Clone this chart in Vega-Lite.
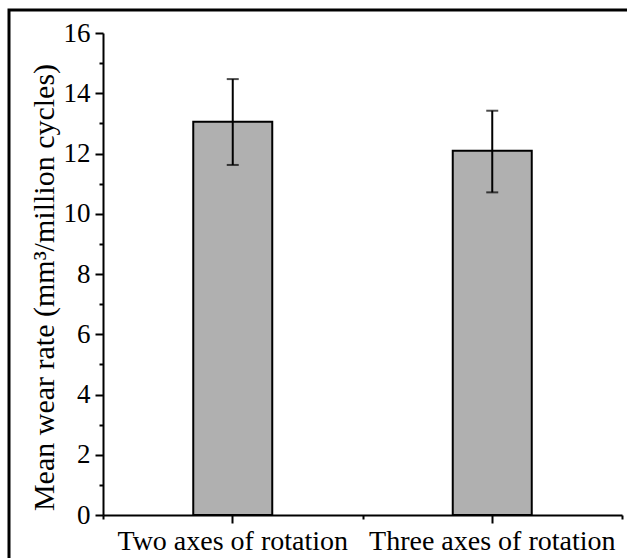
{
  "$schema": "https://vega.github.io/schema/vega-lite/v6.json",
  "autosize": "none",
  "padding": {"left": 9, "top": 10, "right": 0, "bottom": 0},
  "width": 640,
  "height": 571,
  "background": "white",
  "config": {
    "view": {"stroke": "black", "strokeWidth": 3},
    "font": "Liberation Serif"
  },
  "data": {
    "values": [
      {"condition": "Two axes of rotation", "mean": 13.05, "lo": 11.62, "hi": 14.47},
      {"condition": "Three axes of rotation", "mean": 12.09, "lo": 10.71, "hi": 13.42}
    ]
  },
  "layer": [
    {
      "mark": {"type": "bar", "fill": "#b0b0b0", "stroke": "black", "strokeWidth": 2, "width": 79},
      "encoding": {
        "x": {
          "field": "condition", "type": "nominal", "sort": null,
          "scale": {"range": [94, 613], "paddingInner": 0, "paddingOuter": 0},
          "axis": {
            "orient": "bottom", "offset": -66, "title": null,
            "domain": true, "domainColor": "black", "domainWidth": 2,
            "ticks": true, "tickSize": 8, "tickWidth": 2, "tickColor": "black",
            "labelAngle": 0, "labelFont": "Liberation Serif", "labelFontSize": 28,
            "labelColor": "black", "labelPadding": 4, "labelLimit": 0, "grid": false
          }
        },
        "y": {
          "field": "mean", "type": "quantitative",
          "scale": {"domain": [0, 16], "range": [505, 23], "nice": false, "zero": true},
          "axis": {
            "orient": "left", "offset": -94,
            "title": "Mean wear rate (mm³/million cycles)",
            "titleFont": "Liberation Serif", "titleFontSize": 30, "titleFontWeight": "normal",
            "titleColor": "black", "titlePadding": 4, "titleY": 277,
            "values": [0, 1, 2, 3, 4, 5, 6, 7, 8, 9, 10, 11, 12, 13, 14, 15, 16],
            "labelExpr": "datum.value % 2 === 0 ? datum.label : ''",
            "domain": true, "domainColor": "black", "domainWidth": 2,
            "ticks": true, "tickWidth": 2, "tickColor": "black",
            "tickSize": {"condition": {"test": "datum.value % 2 === 0", "value": 8}, "value": 4},
            "labelFont": "Liberation Serif", "labelFontSize": 27, "labelColor": "black",
            "labelPadding": 5, "grid": false
          }
        }
      }
    },
    {
      "mark": {"type": "rule", "color": "black", "strokeWidth": 2},
      "encoding": {
        "x": {
          "field": "condition", "type": "nominal", "sort": null,
          "axis": {
            "orient": "bottom", "offset": -66, "title": null, "domain": false,
            "labels": false, "ticks": true, "tickBand": "extent", "tickSize": 4,
            "tickWidth": 2, "tickColor": "black", "grid": false
          }
        },
        "y": {"field": "lo", "type": "quantitative", "axis": null},
        "y2": {"field": "hi"}
      }
    },
    {
      "mark": {"type": "tick", "color": "black", "orient": "horizontal", "size": 12, "thickness": 2},
      "encoding": {
        "x": {"field": "condition", "type": "nominal", "sort": null, "axis": null},
        "y": {"field": "lo", "type": "quantitative", "axis": null}
      }
    },
    {
      "mark": {"type": "tick", "color": "black", "orient": "horizontal", "size": 12, "thickness": 2},
      "encoding": {
        "x": {"field": "condition", "type": "nominal", "sort": null, "axis": null},
        "y": {"field": "hi", "type": "quantitative", "axis": null}
      }
    }
  ],
  "resolve": {"axis": {"x": "independent", "y": "independent"}}
}
